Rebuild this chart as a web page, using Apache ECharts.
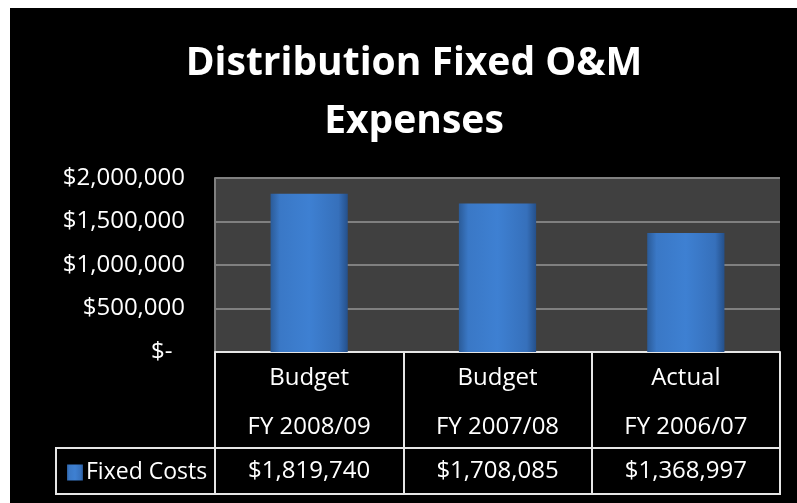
<!DOCTYPE html>
<html lang="en">
  <head>
    <meta charset="UTF-8" />
    <title>Distribution Fixed O&amp;M Expenses</title>
    <script src="https://cdn.jsdelivr.net/npm/echarts@6/dist/echarts.min.js"></script>
    <style>
      body { margin: 0; background: #fff; }
      #main { position: absolute; left: 10px; top: 8px; width: 787px; height: 495px; }
    </style>
  </head>
  <body>
    <div id="main"></div>
    <script type="text/javascript">
      // chart data
      const periodTypes = ["Budget", "Budget", "Actual"];
      const fiscalYears = ["FY 2008/09", "FY 2007/08", "FY 2006/07"];
      const fixedCosts = [1819740, 1708085, 1368997];
      const seriesName = "Fixed Costs";
      const yTicks = [0, 500000, 1000000, 1500000, 2000000];

      const FONT = "Open Sans";
      const categories = periodTypes.map((p, i) => p + "\n" + fiscalYears[i]);

      function money(v) {
        if (v === 0) return "$-  ";
        return "$" + v.toLocaleString("en-US");
      }

      let myChart = echarts.init(document.getElementById("main"));

      // grid geometry (chart coords), the table sits under the plot
      const gridLeft = 205, gridTop = 170, gridRight = 17, gridBottom = 151;
      const row1 = 96, row2 = 46;
      const plotBottom = 495 - gridBottom;

      let options = {
        backgroundColor: "#000",
        animation: false,
        title: {
          text: "Distribution Fixed O&M\nExpenses",
          left: 399,
          top: 22,
          textAlign: "center",
          textStyle: {
            color: "#fff",
            fontFamily: FONT,
            fontWeight: "bold",
            fontSize: 39,
            lineHeight: 58,
          },
        },
        legend: {
          data: [seriesName],
          left: 52,
          top: 448,
          icon: "rect",
          itemWidth: 16,
          itemHeight: 16,
          itemGap: 5,
          textStyle: { color: "#fff", fontFamily: FONT, fontSize: 23, padding: [0, 0, 0, -2] },
        },
        grid: {
          left: gridLeft,
          top: gridTop,
          right: gridRight,
          bottom: gridBottom,
          show: true,
          backgroundColor: "#404040",
          borderWidth: 0,
        },
        xAxis: [
          {
            type: "category",
            data: categories,
            position: "bottom",
            axisLine: { show: true, lineStyle: { color: "#e6e6e6", width: 2 } },
            axisTick: { show: true, length: row1, lineStyle: { color: "#e6e6e6", width: 2 } },
            axisLabel: {
              color: "#fff",
              fontFamily: FONT,
              fontSize: 24,
              lineHeight: 49,
              margin: 2,
              interval: 0,
            },
          },
          {
            type: "category",
            data: fixedCosts.map(money),
            position: "bottom",
            offset: row1,
            axisLine: { show: true, lineStyle: { color: "#e6e6e6", width: 2 } },
            axisTick: { show: true, length: row2, lineStyle: { color: "#e6e6e6", width: 2 } },
            axisLabel: {
              color: "#fff",
              fontFamily: FONT,
              fontSize: 24,
              lineHeight: row2,
              margin: 0,
              interval: 0,
            },
          },
        ],
        yAxis: {
          type: "value",
          min: yTicks[0],
          max: yTicks[yTicks.length - 1],
          interval: yTicks[1] - yTicks[0],
          axisLine: { show: true, lineStyle: { color: "#808080", width: 2 } },
          axisTick: { show: false },
          splitLine: { lineStyle: { color: "#808080", width: 2 } },
          axisLabel: {
            color: "#fff",
            fontFamily: FONT,
            fontSize: 24,
            margin: 30,
            formatter: money,
          },
        },
        graphic: [
          {
            // legend cell and bottom edge of the data table
            type: "rect",
            shape: {
              x: 46,
              y: plotBottom + row1,
              width: 787 - gridRight - 46,
              height: row2,
            },
            style: { fill: "none", stroke: "#e6e6e6", lineWidth: 2 },
            z: 10,
          },
        ],
        series: [
          {
            name: seriesName,
            type: "bar",
            data: fixedCosts,
            barWidth: "41%",
            itemStyle: {
              color: new echarts.graphic.LinearGradient(0, 0, 1, 0, [
                { offset: 0, color: "#2b5b98" },
                { offset: 0.12, color: "#3a78c6" },
                { offset: 0.5, color: "#3e80d2" },
                { offset: 0.88, color: "#3670bb" },
                { offset: 1, color: "#25508a" },
              ]),
            },
          },
        ],
      };

      myChart.setOption(options);
    </script>
  </body>
</html>
